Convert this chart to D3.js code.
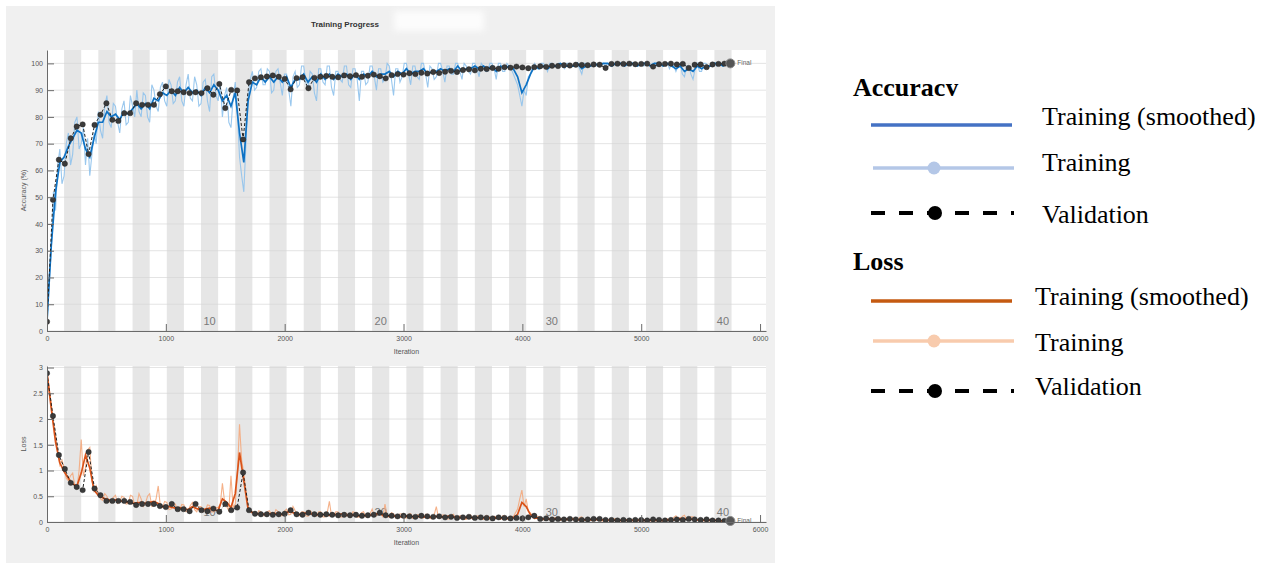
<!DOCTYPE html>
<html>
<head>
<meta charset="utf-8">
<script src="https://cdn.jsdelivr.net/npm/d3@7"></script>
<style>
  body { margin: 0; background: #ffffff; }
  svg { display: block; }
</style>
</head>
<body>
<svg id="chart" width="1271" height="565"></svg>
<script>
// ---- data -------------------------------------------------------------
const rawStep = 18;          // iterations between stored raw training samples
const smoothStep = 36;       // iterations between stored smoothed samples
const valStep = 50;          // validation frequency in iterations
const itersPerEpoch = 144;
const numEpochs = 40;
const epochLabels = [10, 20, 30, 40];
const iterTicks = [0, 1000, 2000, 3000, 4000, 5000, 6000];
const accTicks = [0, 10, 20, 30, 40, 50, 60, 70, 80, 90, 100];
const lossTicks = [0, 0.5, 1, 1.5, 2, 2.5, 3];

const accTrainRaw = [
  0,18, 30,52, 45,62, 68,55, 58,70, 74,62, 66,78, 80,68, 70,76, 62,72,
  58,66, 74,70, 82,75, 72,84, 88,78, 76,85, 84,78, 74,83, 86,77, 78,88,
  84,80, 90,82, 80,89, 88,80, 78,92, 90,84, 82,91, 93,86, 84,94, 92,85,
  86,93, 95,86, 84,92, 96,87, 86,95, 92,84, 85,93, 94,86, 82,95, 96,88,
  86,93, 80,88, 91,78, 76,87, 93,82, 65,58, 52,70, 88,94, 97,90, 91,97,
  98,92, 92,98, 97,89, 90,97, 98,93, 88,96, 96,90, 84,95, 97,91, 92,99,
  99,93, 90,97, 96,89, 86,98, 98,93, 92,99, 99,91, 88,97, 97,94, 93,99,
  99,92, 91,98, 98,94, 86,97, 97,92, 93,99, 99,95, 90,98, 98,93, 94,100,
  99,94, 88,98, 98,93, 95,100, 100,96, 92,99, 99,95, 94,100, 100,96, 91,99,
  98,94, 95,100, 100,97, 93,99, 99,96, 96,100, 100,97, 94,100, 99,97, 96,100,
  100,98, 95,100, 99,97, 97,100, 100,98, 94,100, 100,97, 97,100, 99,98, 96,94,
  92,88, 84,90, 88,95, 96,99, 100,98, 98,100, 100,99, 97,100, 100,99, 99,100,
  100,99, 98,100, 100,99, 99,100, 100,98, 96,100, 100,99, 99,100, 100,99, 99,100,
  100,99, 100,100, 99,100, 100,99, 100,100, 99,100, 100,99, 100,100, 99,100, 100,99,
  100,100, 99,100, 100,99, 100,100, 99,100, 100,98, 100,99, 97,99, 100,96, 95,99,
  99,96, 94,98, 100,97, 97,100, 100,99, 99,100, 100,99, 100,100, 99,100, 100,100,
  100
];
const accTrainSmoothed = [
  4,32,52,63,65,69,72,75,74,68, 65,72,78,78,82,80,81,79,82,81,
  83,85,83,85,83,87,86,89,88,90, 88,91,89,91,89,90,88,91,89,92,
  90,86,88,84,89,74,63,86,93,92, 95,93,95,93,95,93,95,91,94,94,
  96,93,95,93,96,94,96,94,96,95, 96,94,96,94,96,95,97,95,96,96,
  97,95,97,96,98,96,97,97,98,96, 97,97,98,97,98,97,99,97,98,98,
  99,98,99,98,99,97,99,98,99,98, 95,89,92,96,99,98,99,98,99,99,
  100,99,99,99,100,98,99,99,100,99, 100,100,99,100,100,99,100,100,99,100,
  100,99,100,100,99,100,99,98,99,97, 98,97,99,98,99,99,100,100,99,100,
  100
];
const accValidation = [
  3.5,49,64,62.5,72,76.4,77.2,66.1,77,80.8, 85.1,78.9,78.5,81.4,81.4,85.1,84.5,84.5,84.5,88.5,
  91.4,89.6,89.6,89.2,88.9,89.2,88.9,90.7,88.3,92.3, 83.3,90.1,89.9,71.6,93,94.4,94.8,95.1,95.5,95.0,
  94.2,90.3,94.5,94.8,90.7,94.6,95.0,95.3,95.0,94.8, 95.5,95.2,95.6,95.0,95.4,95.8,95.2,94.4,95.6,96.0,
  95.8,96.3,96.0,96.5,96.2,96.8,96.4,96.9,97.2,96.8, 97.5,97.8,97.4,98.0,97.9,98.3,98.0,98.6,98.4,98.8,
  98.5,98.2,98.6,98.9,98.7,99.1,99.0,99.3,99.2,99.5, 99.4,99.3,99.6,99.5,98.3,99.8,99.9,99.8,99.9,99.7,
  99.8,99.9,98.8,99.7,99.8,99.9,99.6,99.8,98.3,99.5, 99.6,98.6,99.6,99.8,99.9,100
];

const lossTrainRaw = [
  2.95,2.6, 2.3,1.9, 1.7,1.35, 1.1,1.2, 1.05,0.85, 0.8,0.9, 0.95,0.7, 0.65,1.0, 1.6,0.9, 1.05,1.4,
  1.45,0.8, 0.6,0.7, 0.55,0.45, 0.42,0.55, 0.5,0.4, 0.38,0.48, 0.52,0.36, 0.4,0.5, 0.48,0.35, 0.36,0.52,
  0.5,0.32, 0.33,0.55, 0.45,0.3, 0.36,0.5, 0.55,0.3, 0.32,0.45, 0.7,0.3, 0.28,0.4, 0.38,0.24, 0.25,0.35,
  0.35,0.22, 0.22,0.34, 0.33,0.2, 0.22,0.32, 0.38,0.24, 0.2,0.3, 0.3,0.2, 0.22,0.33, 0.32,0.19, 0.2,0.28,
  0.28,0.35, 0.75,0.4, 0.3,0.22, 0.9,0.28, 0.35,0.95, 1.9,1.2, 0.95,0.6, 0.3,0.22, 0.2,0.15, 0.13,0.22,
  0.2,0.12, 0.12,0.2, 0.22,0.13, 0.13,0.24, 0.2,0.12, 0.12,0.21, 0.25,0.14, 0.15,0.3, 0.22,0.12, 0.12,0.2,
  0.2,0.12, 0.11,0.22, 0.18,0.11, 0.12,0.2, 0.2,0.1, 0.1,0.18, 0.4,0.12, 0.11,0.2, 0.2,0.1, 0.1,0.17,
  0.17,0.1, 0.09,0.2, 0.18,0.09, 0.1,0.18, 0.2,0.1, 0.09,0.16, 0.25,0.11, 0.12,0.2, 0.17,0.1, 0.35,0.12,
  0.1,0.18, 0.16,0.08, 0.08,0.16, 0.15,0.08, 0.08,0.15, 0.16,0.07, 0.07,0.14, 0.14,0.08, 0.08,0.15, 0.15,0.07,
  0.06,0.14, 0.3,0.08, 0.07,0.14, 0.13,0.06, 0.06,0.13, 0.15,0.06, 0.07,0.12, 0.12,0.05, 0.05,0.13, 0.14,0.06,
  0.06,0.12, 0.11,0.05, 0.05,0.12, 0.12,0.05, 0.06,0.11, 0.1,0.05, 0.05,0.12, 0.12,0.05, 0.05,0.11, 0.1,0.18,
  0.25,0.45, 0.62,0.3, 0.45,0.2, 0.18,0.09, 0.06,0.11, 0.1,0.04, 0.04,0.09, 0.09,0.04, 0.04,0.08, 0.08,0.03,
  0.03,0.08, 0.08,0.03, 0.04,0.07, 0.07,0.03, 0.03,0.09, 0.1,0.03, 0.03,0.06, 0.06,0.02, 0.03,0.06, 0.06,0.02,
  0.02,0.05, 0.05,0.02, 0.02,0.06, 0.06,0.02, 0.02,0.05, 0.05,0.02, 0.02,0.05, 0.05,0.02, 0.02,0.06, 0.06,0.02,
  0.02,0.05, 0.04,0.02, 0.02,0.05, 0.05,0.02, 0.02,0.06, 0.06,0.03, 0.03,0.09, 0.12,0.04, 0.04,0.11, 0.13,0.05,
  0.05,0.1, 0.1,0.03, 0.03,0.07, 0.06,0.02, 0.02,0.05, 0.05,0.02, 0.02,0.04, 0.04,0.01, 0.01,0.04, 0.03,0.01,
  0.01
];
const lossTrainSmoothed = [
  2.90,2.20,1.55,1.15,0.98,0.85,0.74,0.70,0.95,1.30, 1.05,0.62,0.52,0.47,0.44,0.42,0.43,0.41,0.40,0.38,
  0.36,0.37,0.38,0.36,0.38,0.40,0.36,0.30,0.31,0.29, 0.27,0.28,0.25,0.24,0.30,0.26,0.24,0.25,0.27,0.23,
  0.22,0.45,0.38,0.28,0.55,1.35,0.80,0.25,0.18,0.16, 0.16,0.15,0.16,0.17,0.16,0.15,0.19,0.20,0.16,0.15,
  0.17,0.18,0.15,0.14,0.15,0.14,0.13,0.15,0.14,0.16, 0.13,0.14,0.13,0.12,0.13,0.12,0.14,0.16,0.15,0.12,
  0.11,0.12,0.11,0.10,0.12,0.11,0.10,0.11,0.10,0.09, 0.10,0.11,0.10,0.09,0.12,0.10,0.09,0.08,0.09,0.08,
  0.09,0.08,0.08,0.09,0.07,0.08,0.07,0.08,0.07,0.08, 0.15,0.38,0.30,0.14,0.08,0.07,0.06,0.06,0.05,0.06,
  0.05,0.05,0.06,0.05,0.04,0.05,0.04,0.04,0.05,0.04, 0.04,0.03,0.04,0.03,0.03,0.04,0.03,0.03,0.03,0.04,
  0.03,0.03,0.03,0.03,0.03,0.04,0.03,0.05,0.07,0.05, 0.06,0.05,0.04,0.04,0.03,0.03,0.03,0.03,0.02,0.02,
  0.02
];
const lossValidation = [
  2.89,2.06,1.30,1.03,0.76,0.68,0.62,1.36,0.65,0.52, 0.41,0.41,0.41,0.41,0.39,0.33,0.35,0.35,0.35,0.31,
  0.29,0.35,0.25,0.25,0.21,0.35,0.23,0.21,0.26,0.20, 0.35,0.23,0.28,0.96,0.23,0.16,0.15,0.15,0.14,0.15,
  0.16,0.23,0.15,0.14,0.18,0.15,0.14,0.15,0.14,0.13, 0.14,0.13,0.14,0.12,0.13,0.14,0.18,0.13,0.12,0.11,
  0.12,0.11,0.10,0.12,0.11,0.10,0.11,0.09,0.10,0.08, 0.09,0.10,0.08,0.09,0.08,0.07,0.09,0.08,0.07,0.08,
  0.07,0.09,0.12,0.06,0.07,0.05,0.06,0.05,0.06,0.05, 0.04,0.05,0.06,0.06,0.04,0.04,0.03,0.04,0.03,0.04,
  0.04,0.03,0.05,0.04,0.03,0.04,0.05,0.04,0.06,0.05, 0.04,0.05,0.03,0.03,0.02,0.02
];

const legendTitles = ["Accuracy", "Loss"];
const legendLabels = ["Training (smoothed)", "Training", "Validation"];

// ---- drawing ----------------------------------------------------------
const svg = d3.select("#chart");
const defs = svg.append("defs");
defs.append("filter").attr("id", "soft")
  .attr("x", "-30%").attr("y", "-60%").attr("width", "160%").attr("height", "220%")
  .append("feGaussianBlur").attr("stdDeviation", 3);

// figure window background
svg.append("rect").attr("x", 6).attr("y", 6).attr("width", 769).attr("height", 557)
  .attr("fill", "#f0f0f0");

svg.append("text").attr("x", 345).attr("y", 27)
  .attr("text-anchor", "middle")
  .attr("font-family", "Liberation Sans, Arial, sans-serif")
  .attr("font-size", 8).attr("font-weight", "bold").attr("fill", "#333")
  .text("Training Progress");
svg.append("rect").attr("x", 394).attr("y", 11).attr("width", 90).attr("height", 20)
  .attr("fill", "#ffffff").attr("opacity", 0.8).attr("filter", "url(#soft)");

const x = d3.scaleLinear().domain([0, 6050]).range([47, 766]);

function drawPanel(opts) {
  const { id, top, bottom, domain, ticks, tickFormat, yLabel, raw, smooth, val,
          rawColor, smoothColor } = opts;
  const y = d3.scaleLinear().domain(domain).range([bottom, top]);
  const g = svg.append("g");
  const [x0, x1] = x.range();

  defs.append("clipPath").attr("id", "clip-" + id)
    .append("rect").attr("x", x0).attr("y", top).attr("width", x1 - x0).attr("height", bottom - top);

  // plot background with alternating epoch bands
  g.append("rect").attr("x", x0).attr("y", top).attr("width", x1 - x0).attr("height", bottom - top)
    .attr("fill", "#ffffff");
  const epochs = d3.range(1, numEpochs + 1).filter(e => e % 2 === 0);
  g.append("g").selectAll("rect").data(epochs).join("rect")
    .attr("x", e => x((e - 1) * itersPerEpoch))
    .attr("width", e => x(e * itersPerEpoch) - x((e - 1) * itersPerEpoch))
    .attr("y", top).attr("height", bottom - top)
    .attr("fill", "#e6e6e6");

  // horizontal grid
  g.append("g").selectAll("line").data(ticks).join("line")
    .attr("x1", x0).attr("x2", x1)
    .attr("y1", d => y(d)).attr("y2", d => y(d))
    .attr("stroke", "#d4d4d4").attr("stroke-width", 0.8).attr("opacity", 0.8);

  // epoch numbers
  g.append("g").selectAll("text").data(epochLabels).join("text")
    .attr("x", e => x((e - 0.5) * itersPerEpoch))
    .attr("y", bottom - 6)
    .attr("text-anchor", "middle")
    .attr("font-family", "Liberation Sans, Arial, sans-serif")
    .attr("font-size", 11).attr("fill", "#7a7a7a")
    .text(d => d);

  const data = g.append("g").attr("clip-path", `url(#clip-${id})`);
  const rawLine = d3.line().x((d, i) => x(i * rawStep)).y(d => y(d));
  const smoothLine = d3.line().x((d, i) => x(i * smoothStep)).y(d => y(d));
  data.append("path").datum(raw).attr("d", rawLine)
    .attr("fill", "none").attr("stroke", rawColor).attr("stroke-width", 1.1).attr("opacity", 0.9);
  data.append("path").datum(smooth).attr("d", smoothLine)
    .attr("fill", "none").attr("stroke", smoothColor).attr("stroke-width", 1.7);

  const vline = d3.line().x((d, i) => x(i * valStep)).y(d => y(d));
  data.append("path").datum(val).attr("d", vline)
    .attr("fill", "none").attr("stroke", "#222").attr("stroke-width", 1)
    .attr("stroke-dasharray", "3,2");
  data.append("g").selectAll("circle").data(val).join("circle")
    .attr("cx", (d, i) => x(i * valStep)).attr("cy", d => y(d))
    .attr("r", 2.7).attr("fill", "#3a3a3a").attr("stroke", "#222").attr("stroke-width", 0.4);

  // final marker
  const last = val.length - 1;
  g.append("circle").attr("cx", x(last * valStep)).attr("cy", y(val[last]))
    .attr("r", 4.5).attr("fill", "#555").attr("stroke", "#888").attr("stroke-width", 1);
  g.append("text").attr("x", x(last * valStep) + 7).attr("y", y(val[last]) + 2)
    .attr("font-family", "Liberation Sans, Arial, sans-serif")
    .attr("font-size", 6.5).attr("fill", "#666")
    .text("Final");

  // axes
  const yAxis = d3.axisLeft(y).tickValues(ticks).tickFormat(tickFormat)
    .tickSizeInner(-7).tickSizeOuter(0).tickPadding(4);
  const xAxis = d3.axisBottom(x).tickValues(iterTicks).tickFormat(d3.format("d"))
    .tickSizeInner(-7).tickSizeOuter(0).tickPadding(5);
  const ya = g.append("g").attr("transform", `translate(${x0},0)`).call(yAxis);
  const xa = g.append("g").attr("transform", `translate(0,${bottom})`).call(xAxis);
  [ya, xa].forEach(a => {
    a.select(".domain").attr("stroke", "#6a6a6a");
    a.selectAll(".tick line").attr("stroke", "#6a6a6a");
    a.selectAll(".tick text").attr("fill", "#555")
      .attr("font-family", "Liberation Sans, Arial, sans-serif").attr("font-size", 7);
  });

  g.append("text").attr("x", (x0 + x1) / 2).attr("y", bottom + 23)
    .attr("text-anchor", "middle")
    .attr("font-family", "Liberation Sans, Arial, sans-serif")
    .attr("font-size", 7).attr("fill", "#555").text("Iteration");
  g.append("text")
    .attr("transform", `translate(26,${(top + bottom) / 2}) rotate(-90)`)
    .attr("text-anchor", "middle")
    .attr("font-family", "Liberation Sans, Arial, sans-serif")
    .attr("font-size", 7).attr("fill", "#555").text(yLabel);
}

drawPanel({
  id: "acc", top: 50, bottom: 331, domain: [0, 105], ticks: accTicks,
  tickFormat: d3.format("d"), yLabel: "Accuracy (%)",
  raw: accTrainRaw, smooth: accTrainSmoothed, val: accValidation,
  rawColor: "#8fc2ec", smoothColor: "#0e72c4"
});
drawPanel({
  id: "loss", top: 366, bottom: 522, domain: [0, 3.03], ticks: lossTicks,
  tickFormat: d => String(d), yLabel: "Loss",
  raw: lossTrainRaw, smooth: lossTrainSmoothed, val: lossValidation,
  rawColor: "#f4a87c", smoothColor: "#d95319"
});

// ---- legend -----------------------------------------------------------
const serif = "Liberation Serif, Times New Roman, serif";
const leg = svg.append("g");
defs.append("clipPath").attr("id", "clip-acc-title")
  .append("rect").attr("x", 840).attr("y", 60).attr("width", 200).attr("height", 36);

const groups = [
  { title: legendTitles[0], titleY: 95.5, clip: "url(#clip-acc-title)",
    rows: [125, 168, 213], textY: [125, 171, 223], textX: 1042,
    colors: ["#4472c4", "#b4c7e7"], lineX: [871, 1012] },
  { title: legendTitles[1], titleY: 270, clip: null,
    rows: [301, 341, 391], textY: [305, 351, 395], textX: 1035,
    colors: ["#c55a11", "#f8cbad"], lineX: [871, 1012] }
];

groups.forEach(gp => {
  const t = leg.append("text").attr("x", 853).attr("y", gp.titleY)
    .attr("font-family", serif).attr("font-size", 26).attr("font-weight", "bold")
    .attr("fill", "#000").text(gp.title);
  if (gp.clip) t.attr("clip-path", gp.clip);

  const [lx0, lx1] = gp.lineX;
  const mid = 934;
  // smoothed
  leg.append("line").attr("x1", lx0).attr("x2", lx1).attr("y1", gp.rows[0]).attr("y2", gp.rows[0])
    .attr("stroke", gp.colors[0]).attr("stroke-width", 3.5);
  // raw with marker
  leg.append("line").attr("x1", lx0 + 2).attr("x2", lx1 + 2).attr("y1", gp.rows[1]).attr("y2", gp.rows[1])
    .attr("stroke", gp.colors[1]).attr("stroke-width", 3.5);
  leg.append("circle").attr("cx", mid).attr("cy", gp.rows[1]).attr("r", 6.5).attr("fill", gp.colors[1]);
  // validation
  leg.append("line").attr("x1", lx0).attr("x2", lx1 + 2).attr("y1", gp.rows[2]).attr("y2", gp.rows[2])
    .attr("stroke", "#000").attr("stroke-width", 4).attr("stroke-dasharray", "14,14");
  leg.append("circle").attr("cx", mid + 1).attr("cy", gp.rows[2]).attr("r", 7).attr("fill", "#000");

  legendLabels.forEach((lab, i) => {
    leg.append("text").attr("x", gp.textX).attr("y", gp.textY[i])
      .attr("font-family", serif).attr("font-size", 26).attr("fill", "#000")
      .text(lab);
  });
});
</script>
</body>
</html>
